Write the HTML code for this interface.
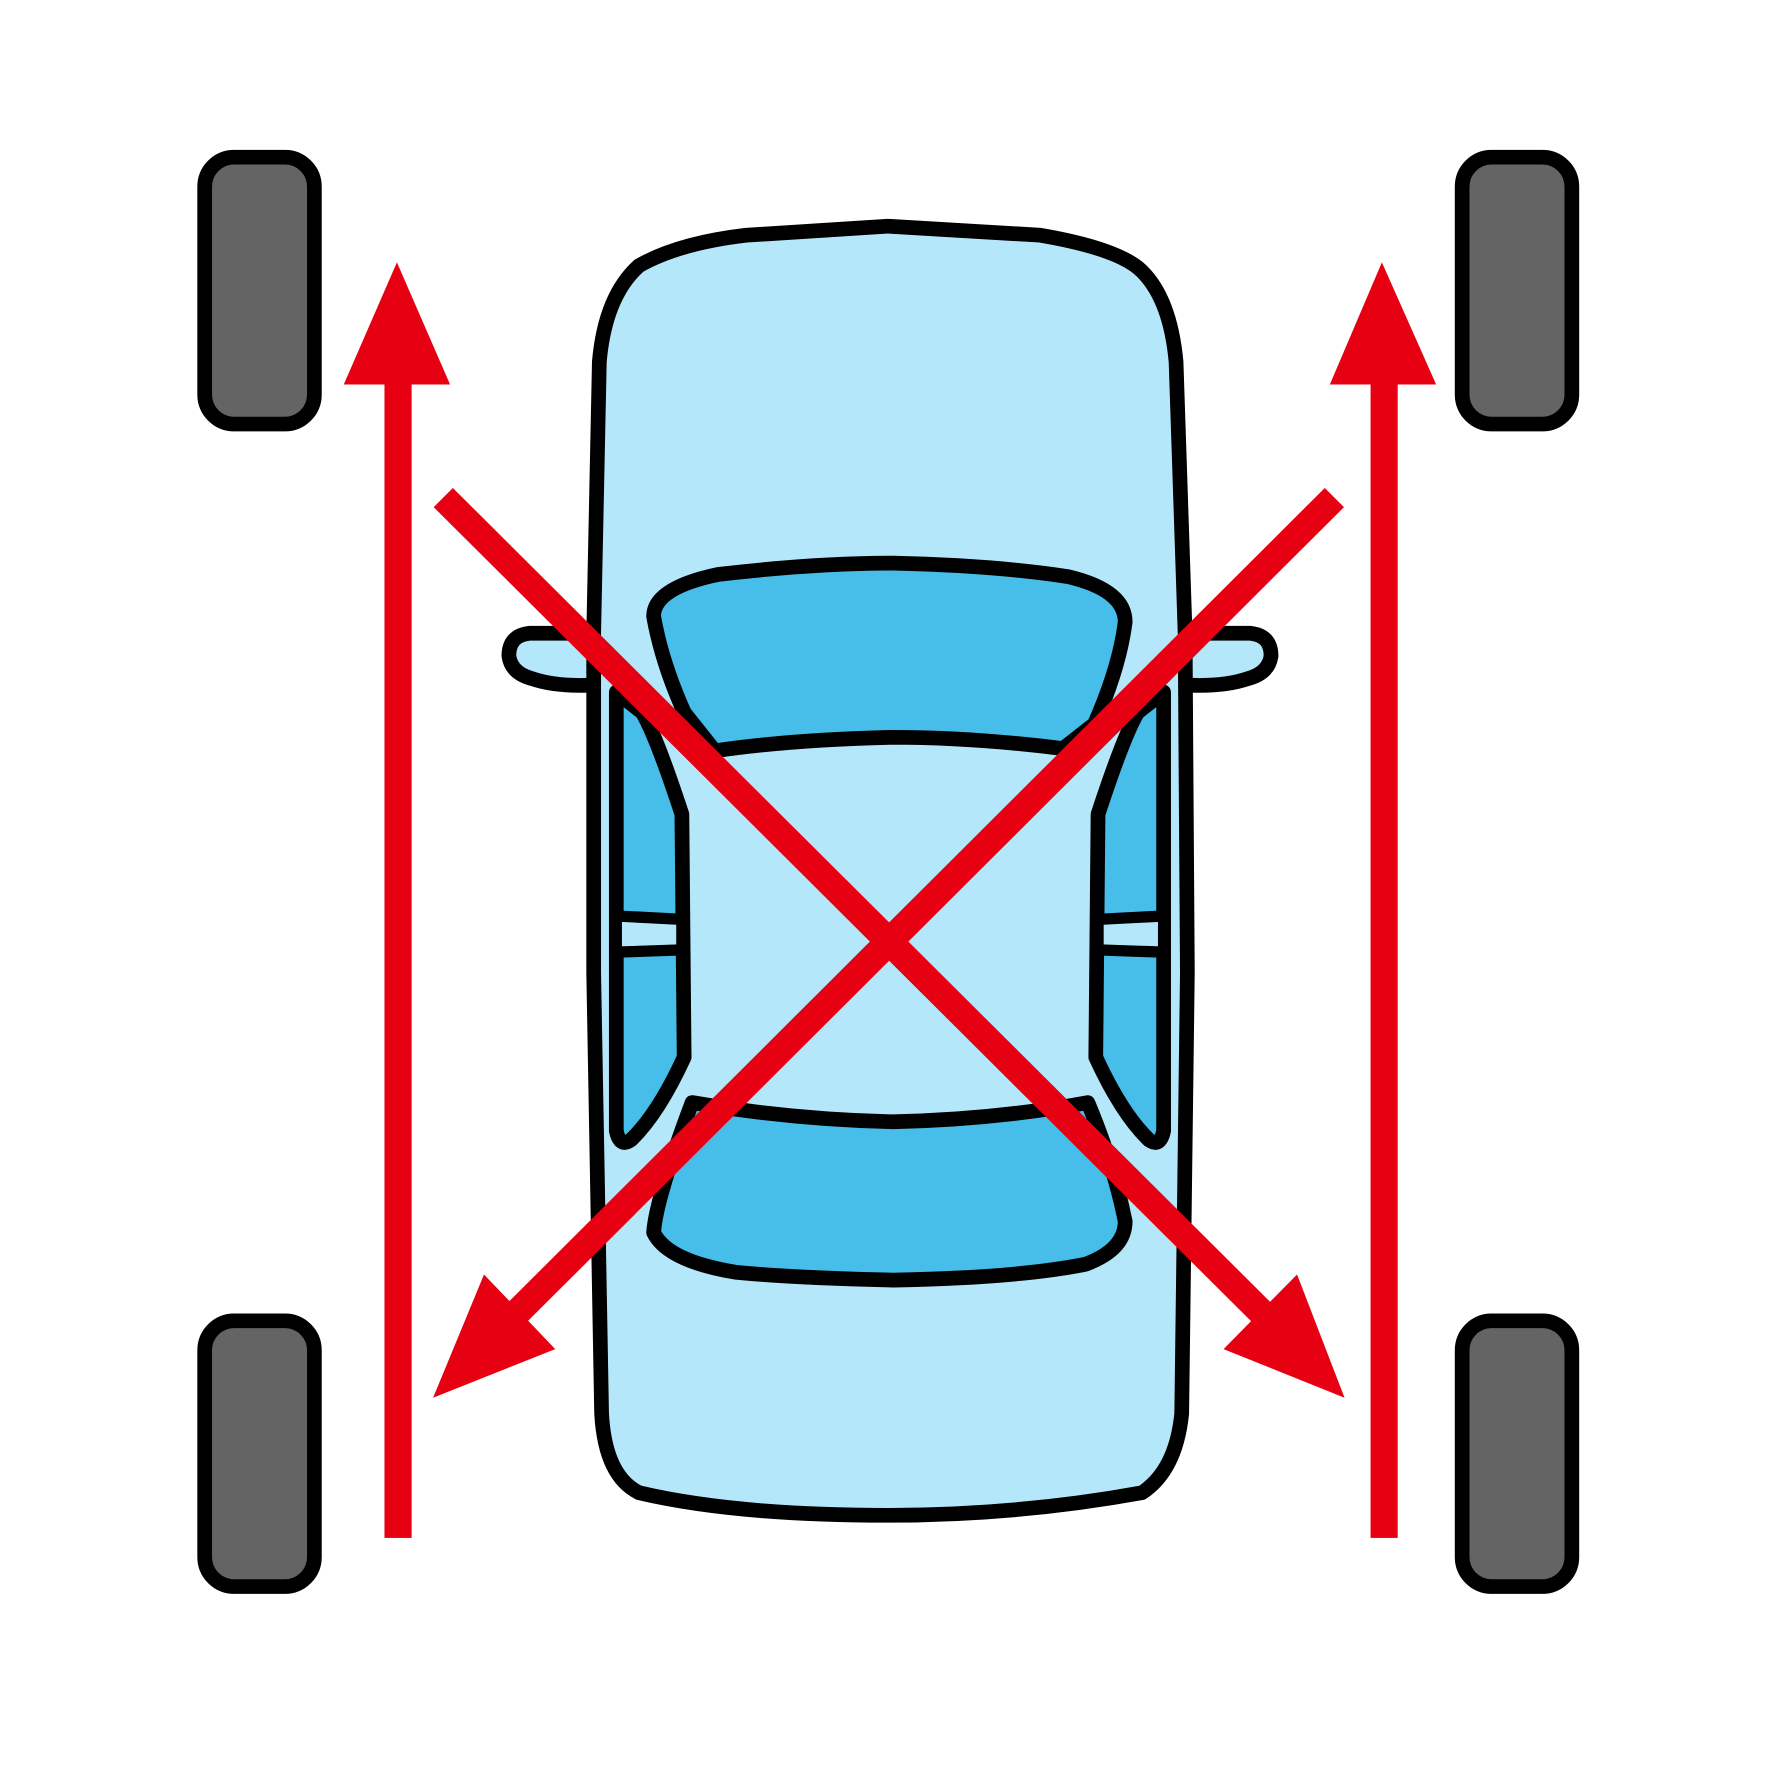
<!DOCTYPE html>
<html><head><style>html,body{margin:0;padding:0;background:#fff}svg{display:block}</style></head>
<body>
<svg width="1772" height="1772" viewBox="0 0 1567 1567" xmlns="http://www.w3.org/2000/svg">
<g stroke="#000" stroke-width="13" stroke-linejoin="round" stroke-linecap="round">
<path d="M528,560 L468,560 Q450,562 450,580 Q452,595 470,600 Q490,607 520,606 L553,606 L553,572 Q552,560 540,560 Z" fill="#b5e7fb"/>
<path d="M1046,560 L1106,560 Q1124,562 1124,580 Q1122,595 1104,600 Q1084,607 1054,606 L1021,606 L1021,572 Q1022,560 1034,560 Z" fill="#b5e7fb"/>
<path d="M565,235 Q600,215 660,208 L785,200 L920,208 Q990,220 1010,240 Q1035,265 1040,320 L1048,560 L1050,860 L1045,1250 Q1040,1300 1010,1320 Q900,1340 785,1340 Q650,1340 565,1320 Q535,1305 532,1250 L525,860 L525,560 L530,320 Q535,262 565,235Z" fill="#b5e7fb"/>
<path d="M578,545 Q578,520 635,508 Q720,498 790,498 Q880,500 945,510 Q995,522 995,550 Q990,590 968,640 L940,662 Q860,652 790,652 Q700,654 632,664 L605,630 Q585,585 578,545Z" fill="#47bde9"/>
<path d="M612,975 Q700,990 790,992 Q880,990 962,975 Q985,1030 995,1080 Q995,1105 960,1118 Q900,1130 790,1132 Q700,1130 650,1125 Q590,1115 578,1090 Q580,1060 612,975Z" fill="#47bde9"/>
<g id="sw">
<path d="M545,612 L545,1000 Q548,1015 558,1008 Q582,985 605,935 L603,720 Q580,650 568,630 L545,612Z" fill="#47bde9"/>
<path d="M545,810 L603,813 L603,840 L545,842Z" fill="#b5e7fb" stroke-width="10"/>
</g>
<use href="#sw" transform="translate(1574,0) scale(-1,1)"/>
<rect x="181" y="139" width="97" height="236" rx="26" fill="#646464"/>
<rect x="1293" y="139" width="97" height="236" rx="26" fill="#646464"/>
<rect x="181" y="1168" width="97" height="235" rx="26" fill="#646464"/>
<rect x="1293" y="1168" width="97" height="235" rx="26" fill="#646464"/>
</g>
<g fill="#e60012">
<rect x="340" y="330" width="24" height="1030"/>
<polygon points="304,340 398,340 351,232"/>
<rect x="1212" y="330" width="24" height="1030"/>
<polygon points="1176,340 1270,340 1222,232"/>
<polygon points="1082,1193 1147,1127 1189,1236"/>
<polygon points="491,1193 428,1127 383,1236"/>
</g>
<g stroke="#e60012" stroke-width="24">
<line x1="392" y1="440" x2="1125" y2="1170"/>
<line x1="1180" y1="440" x2="448" y2="1170"/>
</g>
</svg>
</body></html>
